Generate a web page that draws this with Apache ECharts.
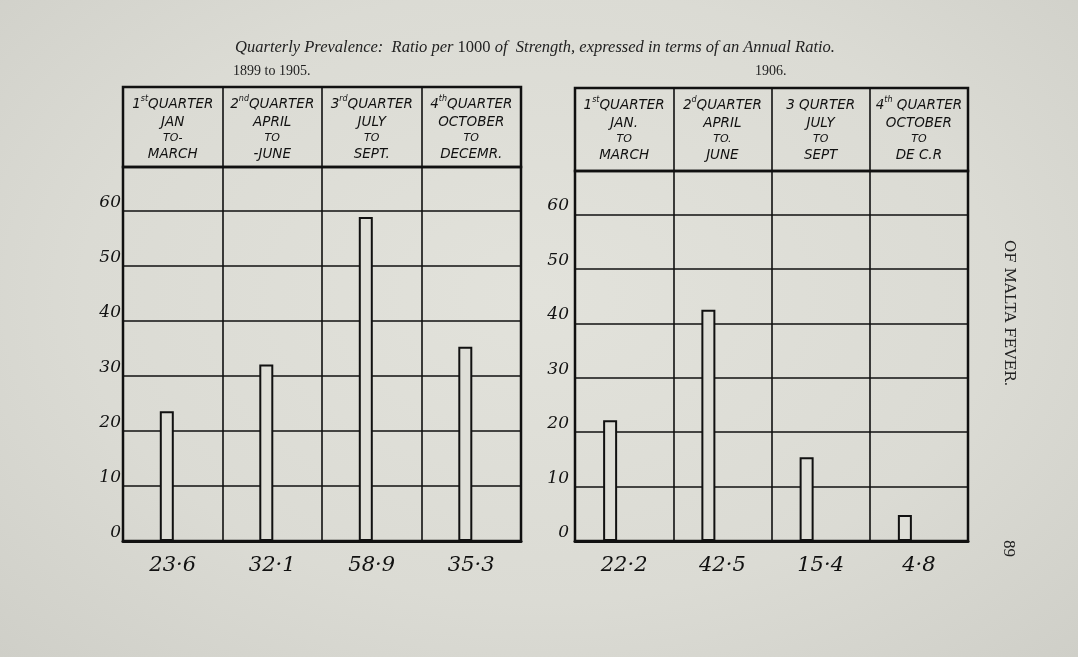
<!DOCTYPE html>
<html>
<head>
<meta charset="utf-8">
<script src="https://cdn.jsdelivr.net/npm/echarts@6/dist/echarts.min.js"></script>
<style>
html,body{margin:0;padding:0;width:1078px;height:657px;overflow:hidden;
background: radial-gradient(ellipse at 50% 45%, #e2e2db 0%, #dbdbd4 60%, #cfcfc8 100%);}
#chart{width:1078px;height:657px;}
</style>
</head>
<body>
<div id="chart"></div>
<script>
// ---- data ----
const quarterHeaders1899 = [
  "1{s|st}QUARTER\nJAN\n{t|TO-}\nMARCH",
  "2{s|nd}QUARTER\nAPRIL\n{t|TO}\n-JUNE",
  "3{s|rd}QUARTER\nJULY\n{t|TO}\nSEPT.",
  "4{s|th}QUARTER\nOCTOBER\n{t|TO}\nDECEMR."
];
const quarterHeaders1906 = [
  "1{s|st}QUARTER\nJAN.\n{t|TO}\nMARCH",
  "2{s|d}QUARTER\nAPRIL\n{t|TO.}\nJUNE",
  "3 QURTER\nJULY\n{t|TO}\nSEPT",
  "4{s|th} QUARTER\nOCTOBER\n{t|TO}\nDE C.R"
];
const values1899 = [23.6, 32.1, 58.9, 35.3];
const values1906 = [22.2, 42.5, 15.4, 4.8];
const yTicks = [0, 10, 20, 30, 40, 50, 60];

const fmt = v => String(v).replace('.', '·');
const hand = "'DejaVu Sans',sans-serif";
const serif = "'Liberation Serif','DejaVu Serif',serif";

const headerRich = {
  s: {fontSize: 8, verticalAlign: 'top', fontFamily: hand, fontStyle: 'italic', color: '#111', padding: [0,0,7,0]},
  t: {fontSize: 11, fontFamily: hand, fontStyle: 'italic', color: '#111', lineHeight: 14}
};

function panel(idx, left, width, headTop, headH, plotTop, plotH, headers, values, yLabelMargin, gap) {
  const gH = idx * 2, gP = idx * 2 + 1;
  return {
    grids: [
      {left: left, top: headTop, width: width, height: headH, show: true, borderColor: '#111', borderWidth: 2.5, backgroundColor: 'transparent'},
      {left: left, top: plotTop, width: width, height: plotH, show: true, borderColor: '#111', borderWidth: 2.5, backgroundColor: 'transparent'}
    ],
    xAxes: [
      {gridIndex: gH, type: 'category', position: 'top', data: headers.map((h, i) => i),
       axisLine: {show: false}, axisTick: {show: false},
       splitLine: {show: true, interval: 0, lineStyle: {color: '#111', width: 1.6}},
       axisLabel: {inside: true, interval: 0, margin: 8, verticalAlign: 'top',
         formatter: (v, i) => headers[i], rich: headerRich,
         fontFamily: hand, fontStyle: 'italic', fontSize: 13.5, lineHeight: 18, color: '#111'}},
      {gridIndex: gP, type: 'category', data: values.map((v, i) => i),
       axisLine: {show: true, lineStyle: {color: '#111', width: 3}}, axisTick: {show: false},
       splitLine: {show: true, interval: 0, lineStyle: {color: '#111', width: 1.6}},
       axisLabel: {interval: 0, margin: 14, formatter: (v, i) => fmt(values[i]),
         fontFamily: "'DejaVu Serif',serif", fontStyle: 'italic', fontSize: 21, color: '#111'}}
    ],
    yAxes: [
      {gridIndex: gH, type: 'value', show: false},
      {gridIndex: gP, type: 'value', min: 0, max: 68, interval: 10,
       axisLine: {show: false}, axisTick: {show: false},
       splitLine: {show: true, lineStyle: {color: '#111', width: 1.6}},
       axisLabel: {margin: yLabelMargin, verticalAlign: 'bottom',
         formatter: v => yTicks.indexOf(v) >= 0 ? String(v) : '',
         fontFamily: "'DejaVu Serif',serif", fontStyle: 'italic', fontSize: 17, color: '#111'}}
    ],
    series: [
      {type: 'bar', xAxisIndex: gP, yAxisIndex: gP, data: values, barWidth: 14, barGap: gap,
       itemStyle: {color: 'rgba(222,222,215,1)', borderColor: '#111', borderWidth: 2},
       z: 3, silent: true},
      // empty spacer so the hand-drawn bars sit a little left of each column's centre
      {type: 'bar', xAxisIndex: gP, yAxisIndex: gP, data: values.map(() => null), barWidth: 14, barGap: gap,
       itemStyle: {color: 'transparent'}, silent: true}
    ]
  };
}

const p1 = panel(0, 123, 398, 87, 80, 167, 374, quarterHeaders1899, values1899, 2, '-15%');
const p2 = panel(1, 575, 393, 88, 83, 171, 370, quarterHeaders1906, values1906, 6, '100%');

const option = {
  backgroundColor: 'transparent',
  animation: false,
  title: [
    {text: '{i|Quarterly Prevalence:  Ratio per }{n|1000}{i| of  Strength, expressed in terms of an Annual Ratio.}',
     left: 530, top: 34, textAlign: 'center',
     textStyle: {fontWeight: 'normal', rich: {
       i: {fontFamily: serif, fontStyle: 'italic', fontWeight: 'normal', fontSize: 16.5, color: '#222'},
       n: {fontFamily: serif, fontWeight: 'normal', fontSize: 16.5, color: '#222'}}}},
    {text: '1899 to 1905.', left: 228, top: 59, textStyle: {fontFamily: serif, fontWeight: 'normal', fontSize: 14, color: '#222'}},
    {text: '1906.', left: 750, top: 59, textStyle: {fontFamily: serif, fontWeight: 'normal', fontSize: 14, color: '#222'}}
  ],
  grid: [...p1.grids, ...p2.grids],
  xAxis: [...p1.xAxes, ...p2.xAxes],
  yAxis: [...p1.yAxes, ...p2.yAxes],
  series: [...p1.series, ...p2.series],
  graphic: [
    {type: 'text', x: 1016, y: 240, rotation: -Math.PI / 2,
     style: {text: 'OF MALTA FEVER.', font: "15px 'DejaVu Serif', serif", fill: '#222'}},
    {type: 'text', x: 1017, y: 540, rotation: -Math.PI / 2,
     style: {text: '89', font: "17px 'Liberation Serif', serif", fill: '#222'}}
  ]
};

const chart = echarts.init(document.getElementById('chart'), null, {renderer: 'canvas'});
chart.setOption(option);
</script>
</body>
</html>
